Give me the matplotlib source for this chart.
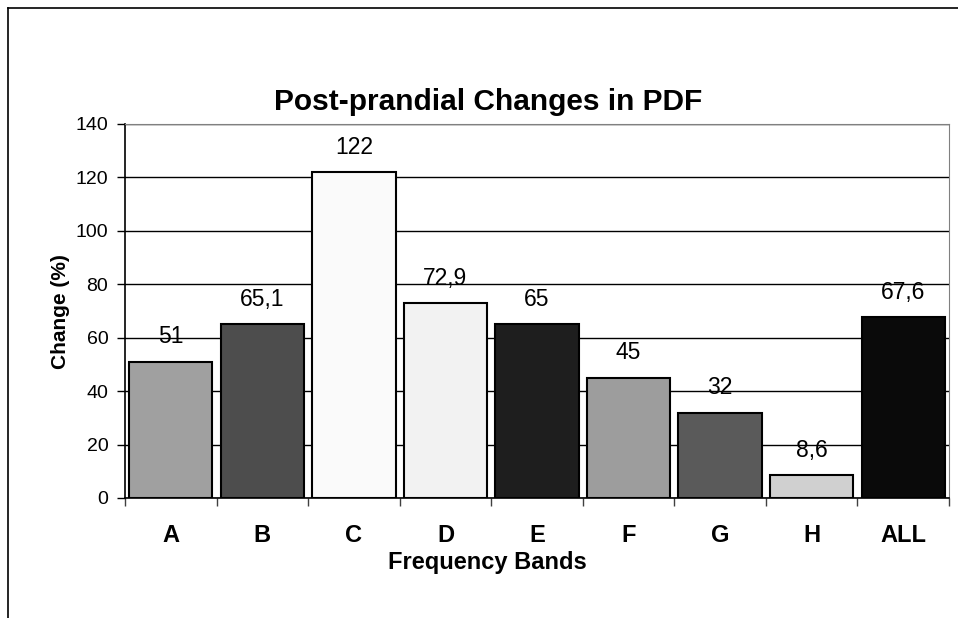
import numpy as np
import matplotlib.pyplot as plt
from matplotlib.lines import Line2D

# data
bands = ["A", "B", "C", "D", "E", "F", "G", "H", "ALL"]
change = [51, 65.1, 122, 72.9, 65, 45, 32, 8.6, 67.6]
bar_colors = ["#a0a0a0", "#4d4d4d", "#fafafa", "#f2f2f2", "#1e1e1e",
              "#9d9d9d", "#5a5a5a", "#d0d0d0", "#0a0a0a"]
yticks = [0, 20, 40, 60, 80, 100, 120, 140]

plt.rcParams['font.family'] = ['Liberation Sans', 'DejaVu Sans']

fig = plt.figure(figsize=(9.58, 6.18), dpi=100)
ax = fig.add_axes([125 / 958, 1 - 498 / 618, 824 / 958, 374 / 618])

x = np.arange(len(bands))
ax.bar(x, change, width=0.91, color=bar_colors, edgecolor="black", linewidth=1.5, zorder=3)

# value labels, decimal comma
for xi, v in zip(x, change):
    lab = f"{v:g}".replace(".", ",")
    ax.annotate(lab, (xi, v), xytext=(0, 18), textcoords="offset points",
                ha="center", va="center", fontsize=16.5)

ax.set_xlim(-0.5, len(bands) - 0.5)
ax.set_ylim(0, 140)
ax.set_yticks(yticks)
ax.tick_params(axis="y", labelsize=14, length=6, width=1, direction="out", pad=6)
ax.yaxis.grid(True, color="black", linewidth=1, zorder=0)

# boundary ticks on x, labels in between
ax.set_xticks(np.arange(len(bands) + 1) - 0.5)
ax.set_xticklabels([])
ax.tick_params(axis="x", which="major", length=6, width=1, direction="out", color="#404040")
ax.set_xticks(x, minor=True)
ax.set_xticklabels(bands, minor=True, fontweight="bold", fontsize=17)
ax.tick_params(axis="x", which="minor", length=0, pad=19)

for s in ["top", "right"]:
    ax.spines[s].set_color("#808080")
for s in ["left", "bottom"]:
    ax.spines[s].set_color("black")
    ax.spines[s].set_linewidth(1.2)

fig.text(488 / 958, 1 - 102 / 618, "Post-prandial Changes in PDF", ha="center", va="center",
         fontsize=21.5, fontweight="bold")
fig.text(61 / 958, 1 - 312 / 618, "Change (%)", ha="center", va="center", rotation=90,
         fontsize=15, fontweight="bold")
fig.text(487 / 958, 1 - 562 / 618, "Frequency Bands", ha="center", va="center",
         fontsize=17, fontweight="bold")

# chart frame (left and top edges visible)
fig.add_artist(Line2D([8 / 958, 8 / 958], [0, 1 - 8 / 618], color="black", linewidth=1.2))
fig.add_artist(Line2D([8 / 958, 1], [1 - 8 / 618, 1 - 8 / 618], color="black", linewidth=1.2))

fig.savefig("out.png", dpi=100)
